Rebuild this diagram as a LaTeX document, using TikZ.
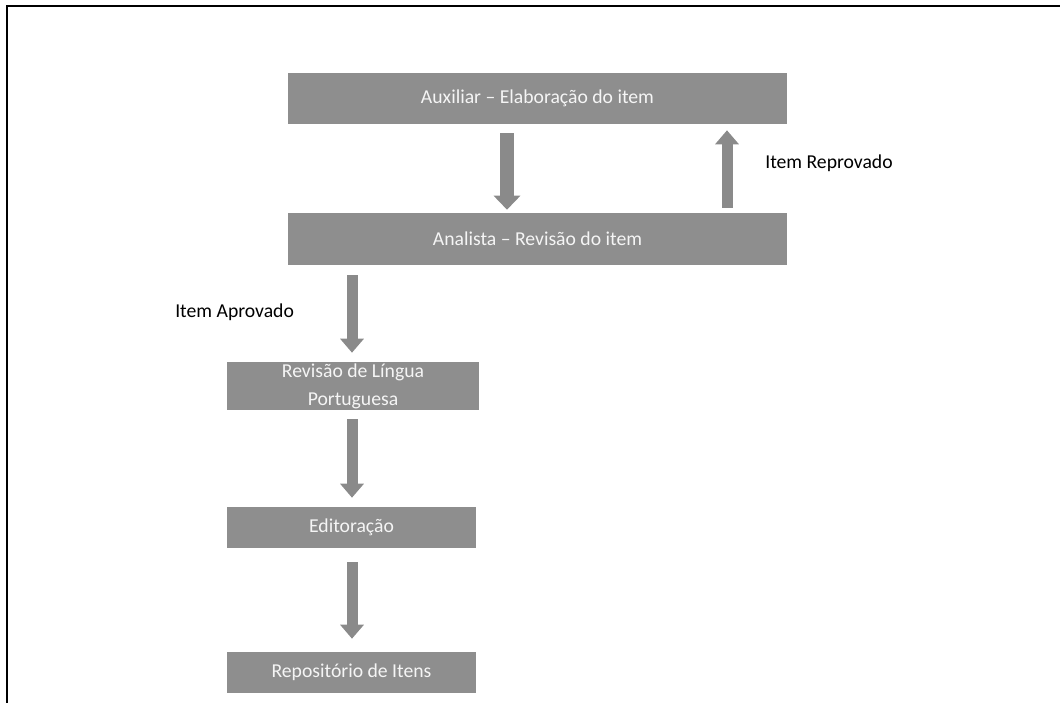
\documentclass[tikz,border=0pt]{standalone}
\usepackage{fontspec}
\setmainfont{Carlito}
\usetikzlibrary{positioning}
\usetikzlibrary{calc}
\usetikzlibrary{arrows.meta}
\definecolor{boxgray}{RGB}{142,142,142}
\definecolor{arrowgray}{RGB}{138,138,138}
\definecolor{boxtext}{RGB}{245,245,245}

\begin{document}
\begin{tikzpicture}[x=0.025cm, y=-0.025cm, font=\fontsize{14}{20}\selectfont,
    stepbox/.style={fill=boxgray, text=boxtext, inner sep=0pt, align=center},
    flow/.style={draw=arrowgray, line width=0.275cm, -{Triangle[width=0.575cm, length=0.35cm]}},
    bigflow/.style={flow, line width=0.34cm, -{Triangle[width=0.65cm, length=0.35cm]}}]

        \useasboundingbox (0,0) rectangle (1060,703);

        % Frame
        \coordinate (F1) at (1060,6);
        \coordinate (F2) at (7,6);
        \coordinate (F3) at (7,703);
        \draw[line width=0.05cm] (F1) -- (F2) -- (F3);

        % Boxes
        \node[stepbox, minimum width=12.475cm, minimum height=1.275cm] (aux) at (537.5,98.5) {Auxiliar -- Elaboração do item};
        \node[stepbox, minimum width=12.475cm, minimum height=1.3cm] (ana) at (537.5,239) {Analista -- Revisão do item};
        \node[stepbox, minimum width=6.3cm, minimum height=1.2cm] (rlp) at (353,386) {Revisão de Língua\\Portuguesa};
        \node[stepbox, minimum width=6.225cm, minimum height=1.025cm] (edi) at (351.5,527.5) {Editoração};
        \node[stepbox, minimum width=6.225cm, minimum height=1.025cm] (rep) at (351.5,672.5) {Repositório de Itens};

        % Arrow columns
        \coordinate (K1) at (507,0);
        \coordinate (K2) at (727,0);
        \coordinate (K3) at (352,0);

        \draw[bigflow, shorten <=0.225cm, shorten >=0.075cm] (aux.south -| K1) -- (ana.north -| K1);
        \draw[flow, shorten <=0.125cm, shorten >=0.15cm] (ana.north -| K2) -- (aux.south -| K2);
        \draw[flow, shorten <=0.25cm, shorten >=0.225cm] (ana.south -| K3) -- (rlp.north -| K3);
        \draw[flow, shorten <=0.225cm, shorten >=0.225cm] (rlp.south -| K3) -- (edi.north -| K3);
        \draw[flow, shorten <=0.35cm, shorten >=0.325cm] (edi.south -| K3) -- (rep.north -| K3);

        % Labels
        \node[right, inner sep=0pt] (reprov) at (765,163) {Item Reprovado};
        \node[right, inner sep=0pt] (aprov) at (175,312) {Item Aprovado};

\end{tikzpicture}
\end{document}
